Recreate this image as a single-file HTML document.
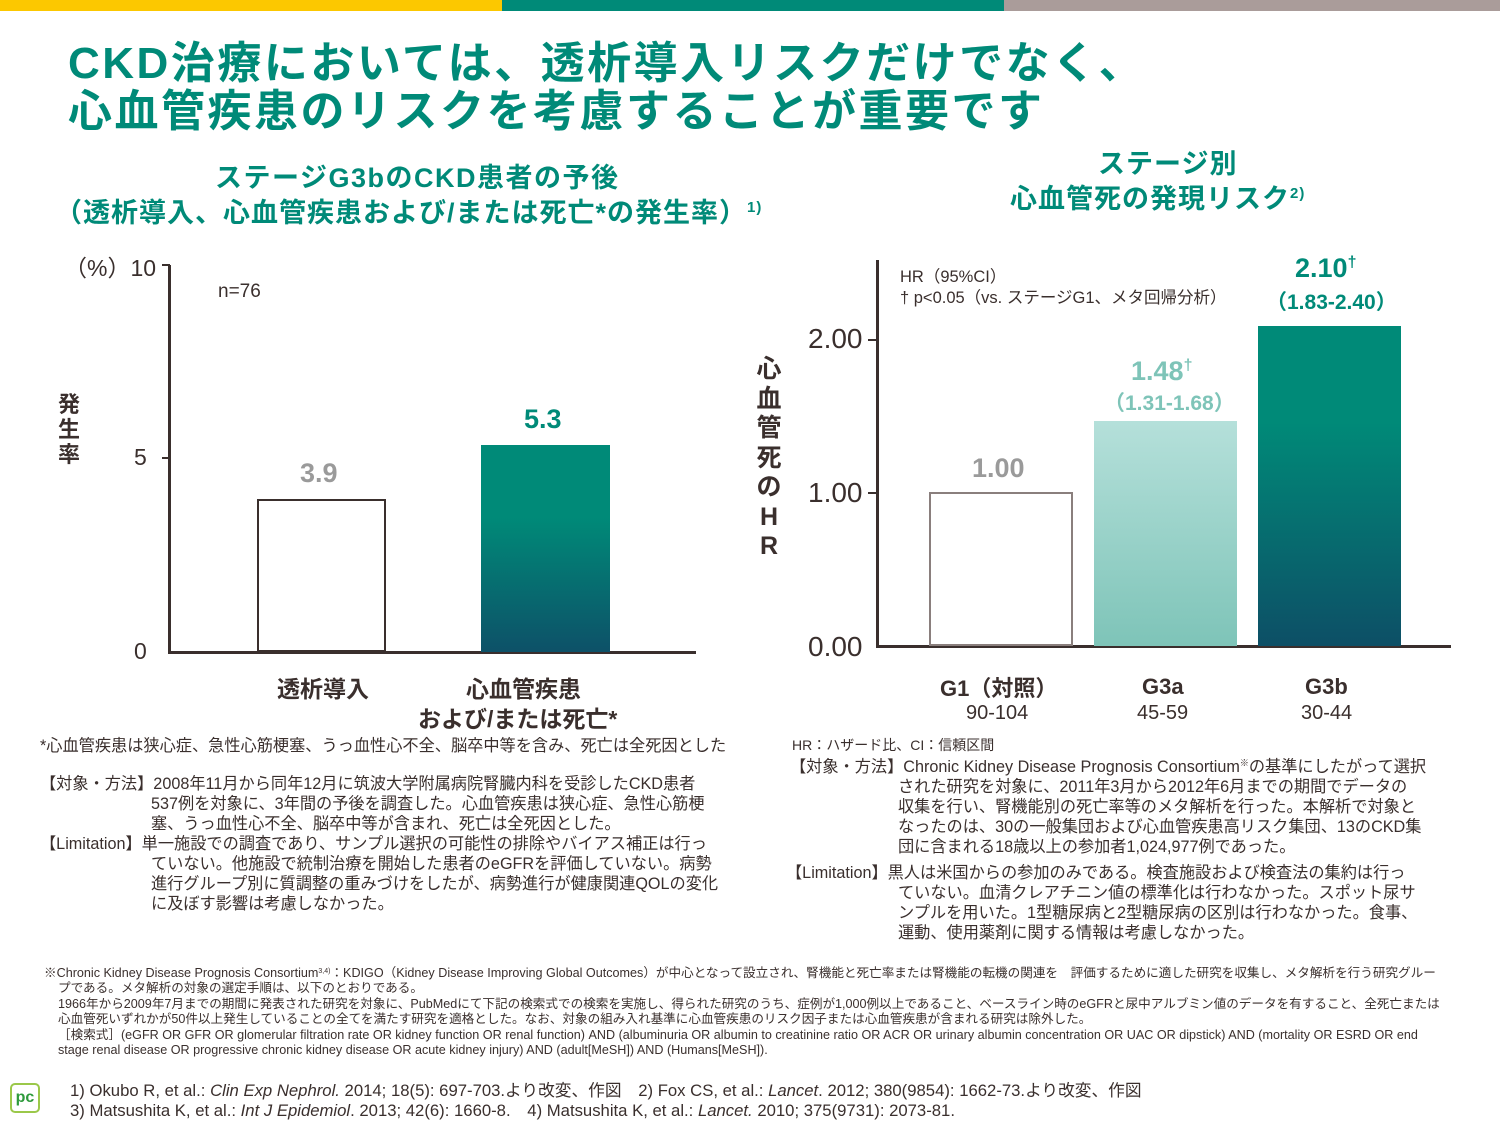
<!DOCTYPE html>
<html><head><meta charset="utf-8"><style>
*{margin:0;padding:0;box-sizing:border-box}
body{width:1500px;height:1125px;position:relative;background:#fff;font-family:"Liberation Sans","Noto Sans CJK JP",sans-serif;color:#3a2f2d;overflow:hidden}
.a{position:absolute;white-space:nowrap}
.g{color:#008a78;font-weight:bold}
.t{font-size:16.2px;line-height:20px;color:#3a2f2d}
.s{font-size:12.6px;line-height:15.5px;color:#3a2f2d}
.sp{position:relative;top:-6px;font-size:9px}
</style></head><body>
<div class="a" style="left:0;top:0;width:502px;height:11px;background:#fcc800"></div>
<div class="a" style="left:502px;top:0;width:502px;height:11px;background:#008a78"></div>
<div class="a" style="left:1004px;top:0;width:496px;height:11px;background:#aa9c9a"></div>

<div class="a g" style="left:68px;top:40px;font-size:44px;line-height:48px;letter-spacing:2.5px">CKD治療においては、透析導入リスクだけでなく、<br>心血管疾患のリスクを考慮することが重要です</div>

<div class="a g" style="left:215px;top:161px;font-size:27px;line-height:34px;letter-spacing:1.5px">ステージG3bのCKD患者の予後</div>
<div class="a g" style="left:55px;top:196px;font-size:27px;line-height:34px;letter-spacing:1px">（透析導入、心血管疾患および/または死亡*の発生率）<span style="font-size:15px;position:relative;top:-10px">1)</span></div>
<div class="a g" style="left:1098px;top:147px;font-size:27px;line-height:34px;letter-spacing:1px">ステージ別</div>
<div class="a g" style="left:1010px;top:182px;font-size:27px;line-height:34px;letter-spacing:1px">心血管死の発現リスク<span style="font-size:15px;position:relative;top:-10px">2)</span></div>

<!-- left chart -->
<div class="a" style="left:168px;top:265px;width:3px;height:389px;background:#3a2f2d"></div>
<div class="a" style="left:168px;top:651px;width:528px;height:3px;background:#3a2f2d"></div>
<div class="a" style="left:162px;top:264px;width:8px;height:2px;background:#3a2f2d"></div>
<div class="a" style="left:162px;top:457px;width:8px;height:2px;background:#3a2f2d"></div>
<div class="a" style="left:64px;top:249px;font-size:23px">（%）10</div>
<div class="a" style="left:134px;top:444px;font-size:23px">5</div>
<div class="a" style="left:134px;top:638px;font-size:23px">0</div>
<div class="a" style="left:58px;top:392px;font-size:22px;font-weight:bold;line-height:25px;width:26px">発<br>生<br>率</div>
<div class="a" style="left:218px;top:281px;font-size:19px">n=76</div>
<div class="a" style="left:257px;top:499px;width:129px;height:153px;border:2px solid #3a2f2d;background:#fff"></div>
<div class="a" style="left:481px;top:445px;width:129px;height:207px;background:linear-gradient(#008a78 35%,#0d5168)"></div>
<div class="a" style="left:300px;top:458px;font-size:27px;font-weight:bold;color:#9a9a9a">3.9</div>
<div class="a g" style="left:524px;top:404px;font-size:27px">5.3</div>
<div class="a" style="left:277px;top:670px;font-size:23px;font-weight:bold">透析導入</div>
<div class="a" style="left:466px;top:670px;font-size:23px;font-weight:bold">心血管疾患</div>
<div class="a" style="left:418px;top:700px;font-size:23px;font-weight:bold">および/または死亡*</div>

<!-- right chart -->
<div class="a" style="left:876px;top:260px;width:3px;height:388px;background:#3a2f2d"></div>
<div class="a" style="left:876px;top:645px;width:575px;height:3px;background:#3a2f2d"></div>
<div class="a" style="left:868px;top:339px;width:10px;height:2px;background:#3a2f2d"></div>
<div class="a" style="left:868px;top:492px;width:10px;height:2px;background:#3a2f2d"></div>
<div class="a" style="left:808px;top:323px;font-size:28px">2.00</div>
<div class="a" style="left:808px;top:477px;font-size:28px">1.00</div>
<div class="a" style="left:808px;top:631px;font-size:28px">0.00</div>
<div class="a" style="left:755px;top:355px;font-size:25px;font-weight:bold;line-height:29.5px;width:28px;text-align:center">心<br>血<br>管<br>死<br>の<br>H<br>R</div>
<div class="a" style="left:900px;top:267px;font-size:16.5px;line-height:21px">HR（95%CI）<br>† p&lt;0.05（vs. ステージG1、メタ回帰分析）</div>
<div class="a" style="left:929px;top:492px;width:144px;height:154px;border:2px solid #8a7f7d;background:#fff"></div>
<div class="a" style="left:1094px;top:421px;width:143px;height:225px;background:linear-gradient(#b5e0da,#7ec4b8)"></div>
<div class="a" style="left:1258px;top:326px;width:143px;height:320px;background:linear-gradient(#008a78 30%,#0d4f66)"></div>
<div class="a" style="left:972px;top:453px;font-size:27px;font-weight:bold;color:#9a9a9a">1.00</div>
<div class="a" style="left:1131px;top:356px;font-size:27px;font-weight:bold;color:#7ec4b8">1.48<span style="font-size:16px;position:relative;top:-10px">†</span></div>
<div class="a" style="left:1104px;top:387px;font-size:21px;font-weight:bold;color:#7ec4b8">（1.31-1.68）</div>
<div class="a g" style="left:1295px;top:253px;font-size:27px">2.10<span style="font-size:16px;position:relative;top:-10px">†</span></div>
<div class="a g" style="left:1266px;top:286px;font-size:21px">（1.83-2.40）</div>
<div class="a" style="left:940px;top:671px;font-size:22px;font-weight:bold">G1（対照）</div>
<div class="a" style="left:966px;top:702px;font-size:20px">90-104</div>
<div class="a" style="left:1142px;top:674px;font-size:22px;font-weight:bold">G3a</div>
<div class="a" style="left:1137px;top:702px;font-size:20px">45-59</div>
<div class="a" style="left:1305px;top:674px;font-size:22px;font-weight:bold">G3b</div>
<div class="a" style="left:1301px;top:702px;font-size:20px">30-44</div>

<!-- notes -->
<div class="a t" style="left:40px;top:736px">*心血管疾患は狭心症、急性心筋梗塞、うっ血性心不全、脳卒中等を含み、死亡は全死因とした</div>
<div class="a t" style="left:40px;top:774px">【対象・方法】2008年11月から同年12月に筑波大学附属病院腎臓内科を受診したCKD患者</div>
<div class="a t" style="left:151px;top:794px">537例を対象に、3年間の予後を調査した。心血管疾患は狭心症、急性心筋梗<br>塞、うっ血性心不全、脳卒中等が含まれ、死亡は全死因とした。</div>
<div class="a t" style="left:40px;top:834px">【Limitation】単一施設での調査であり、サンプル選択の可能性の排除やバイアス補正は行っ</div>
<div class="a t" style="left:151px;top:854px">ていない。他施設で統制治療を開始した患者のeGFRを評価していない。病勢<br>進行グループ別に質調整の重みづけをしたが、病勢進行が健康関連QOLの変化<br>に及ぼす影響は考慮しなかった。</div>

<div class="a" style="left:792px;top:735px;font-size:14px">HR：ハザード比、CI：信頼区間</div>
<div class="a t" style="left:790px;top:757px">【対象・方法】Chronic Kidney Disease Prognosis Consortium<span class="sp">※</span>の基準にしたがって選択</div>
<div class="a t" style="left:898px;top:777px">された研究を対象に、2011年3月から2012年6月までの期間でデータの<br>収集を行い、腎機能別の死亡率等のメタ解析を行った。本解析で対象と<br>なったのは、30の一般集団および心血管疾患高リスク集団、13のCKD集<br>団に含まれる18歳以上の参加者1,024,977例であった。</div>
<div class="a t" style="left:786px;top:863px">【Limitation】黒人は米国からの参加のみである。検査施設および検査法の集約は行っ</div>
<div class="a t" style="left:898px;top:883px">ていない。血清クレアチニン値の標準化は行わなかった。スポット尿サ<br>ンプルを用いた。1型糖尿病と2型糖尿病の区別は行わなかった。食事、<br>運動、使用薬剤に関する情報は考慮しなかった。</div>

<div class="a s" style="left:44px;top:966px">※Chronic Kidney Disease Prognosis Consortium<span style="font-size:7px;position:relative;top:-4px">3,4)</span>：KDIGO（Kidney Disease Improving Global Outcomes）が中心となって設立され、腎機能と死亡率または腎機能の転機の関連を　評価するために適した研究を収集し、メタ解析を行う研究グルー</div>
<div class="a s" style="left:58px;top:981px">プである。メタ解析の対象の選定手順は、以下のとおりである。<br>1966年から2009年7月までの期間に発表された研究を対象に、PubMedにて下記の検索式での検索を実施し、得られた研究のうち、症例が1,000例以上であること、ベースライン時のeGFRと尿中アルブミン値のデータを有すること、全死亡または<br>心血管死いずれかが50件以上発生していることの全てを満たす研究を適格とした。なお、対象の組み入れ基準に心血管疾患のリスク因子または心血管疾患が含まれる研究は除外した。<br>［検索式］(eGFR OR GFR OR glomerular filtration rate OR kidney function OR renal function) AND (albuminuria OR albumin to creatinine ratio OR ACR OR urinary albumin concentration OR UAC OR dipstick) AND (mortality OR ESRD OR end<br>stage renal disease OR progressive chronic kidney disease OR acute kidney injury) AND (adult[MeSH]) AND (Humans[MeSH]).</div>

<div class="a" style="left:10px;top:1083px;width:30px;height:30px;border:2px solid #9bc84a;border-radius:5px;color:#2e9a3c;font-weight:bold;font-size:16px;text-align:center;line-height:26px">pc</div>
<div class="a" style="left:70px;top:1081px;font-size:16.7px;line-height:20px">1) Okubo R, et al.: <i>Clin Exp Nephrol.</i> 2014; 18(5): 697-703.より改変、作図　2) Fox CS, et al.: <i>Lancet</i>. 2012; 380(9854): 1662-73.より改変、作図<br>3) Matsushita K, et al.: <i>Int J Epidemiol</i>. 2013; 42(6): 1660-8.　4) Matsushita K, et al.: <i>Lancet.</i> 2010; 375(9731): 2073-81.</div>
</body></html>
